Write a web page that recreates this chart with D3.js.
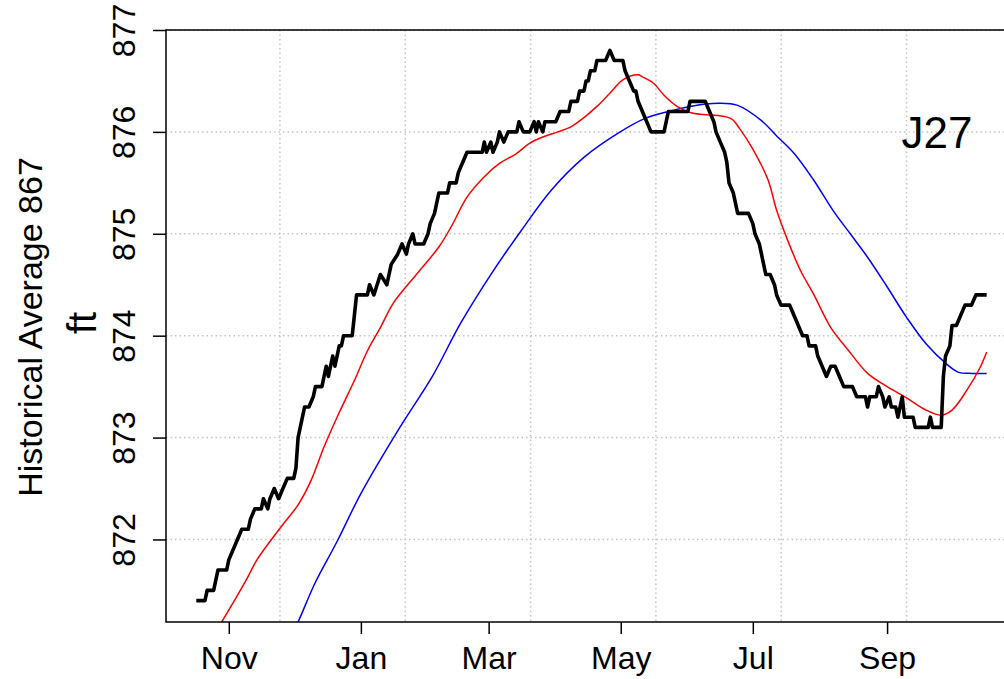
<!DOCTYPE html>
<html>
<head>
<meta charset="utf-8">
<script src="https://cdn.jsdelivr.net/npm/d3@7"></script>
<style>
  html, body { margin: 0; padding: 0; background: #fff; }
  svg { display: block; font-family: "Liberation Sans", Arial, Helvetica, sans-serif; }
</style>
</head>
<body>
<svg id="chart" width="1004" height="679"></svg>
<script>
// ---------------- data ----------------
const xDomain = ["2016-10-03", "2017-10-31"];
const yDomain = [871.19, 877.0];
const yTicks = [872, 873, 874, 875, 876, 877];
const monthTicks = ["2016-11-01", "2017-01-01", "2017-03-01", "2017-05-01", "2017-07-01", "2017-09-01"];
const monthLabels = ["Nov", "Jan", "Mar", "May", "Jul", "Sep"];
const gridStepSeconds = 5e6;          // R pretty() step on POSIXct axis
const gridStartSeconds = 1.475e9;
const gridEndSeconds = 1.51e9;
const yLabel = "Historical Average 867";
const unitLabel = "ft";
const siteLabel = "J27";

const observed = [
["2016-10-17",871.4],["2016-10-21",871.4],["2016-10-22",871.5],["2016-10-25",871.5],["2016-10-26",871.6],["2016-10-27",871.7],["2016-10-31",871.7],["2016-11-01",871.8],["2016-11-03",871.9],["2016-11-05",872.0],["2016-11-07",872.1],["2016-11-10",872.1],["2016-11-11",872.2],["2016-11-13",872.3],["2016-11-16",872.3],["2016-11-17",872.4],["2016-11-19",872.3],["2016-11-20",872.4],["2016-11-22",872.5],["2016-11-24",872.4],["2016-11-26",872.5],["2016-11-28",872.6],["2016-12-01",872.6],["2016-12-02",872.7],["2016-12-03",873.0],["2016-12-04",873.1],["2016-12-05",873.2],["2016-12-06",873.3],["2016-12-08",873.3],["2016-12-10",873.4],["2016-12-11",873.5],["2016-12-14",873.5],["2016-12-15",873.6],["2016-12-16",873.7],["2016-12-17",873.6],["2016-12-18",873.7],["2016-12-19",873.8],["2016-12-20",873.7],["2016-12-21",873.8],["2016-12-22",873.9],["2016-12-23",873.9],["2016-12-24",874.0],["2016-12-28",874.0],["2016-12-29",874.2],["2016-12-30",874.4],["2017-01-04",874.4],["2017-01-05",874.5],["2017-01-07",874.4],["2017-01-10",874.6],["2017-01-13",874.5],["2017-01-15",874.7],["2017-01-18",874.8],["2017-01-20",874.9],["2017-01-22",874.8],["2017-01-23",874.9],["2017-01-25",875.0],["2017-01-26",874.9],["2017-01-30",874.9],["2017-02-01",875.0],["2017-02-02",875.1],["2017-02-04",875.2],["2017-02-05",875.3],["2017-02-06",875.4],["2017-02-10",875.4],["2017-02-11",875.5],["2017-02-14",875.5],["2017-02-15",875.6],["2017-02-17",875.7],["2017-02-19",875.8],["2017-02-26",875.8],["2017-02-27",875.9],["2017-02-28",875.8],["2017-03-02",875.9],["2017-03-03",875.8],["2017-03-05",875.9],["2017-03-06",876.0],["2017-03-08",875.9],["2017-03-10",876.0],["2017-03-14",876.0],["2017-03-15",876.1],["2017-03-17",876.0],["2017-03-20",876.0],["2017-03-22",876.1],["2017-03-23",876.0],["2017-03-24",876.1],["2017-03-26",876.0],["2017-03-27",876.1],["2017-04-01",876.1],["2017-04-03",876.2],["2017-04-07",876.2],["2017-04-08",876.3],["2017-04-11",876.3],["2017-04-12",876.4],["2017-04-14",876.4],["2017-04-15",876.5],["2017-04-16",876.5],["2017-04-17",876.6],["2017-04-19",876.6],["2017-04-20",876.7],["2017-04-24",876.7],["2017-04-26",876.8],["2017-04-28",876.7],["2017-05-02",876.7],["2017-05-03",876.6],["2017-05-05",876.5],["2017-05-07",876.4],["2017-05-08",876.4],["2017-05-09",876.3],["2017-05-11",876.2],["2017-05-13",876.1],["2017-05-15",876.0],["2017-05-21",876.0],["2017-05-22",876.1],["2017-05-23",876.2],["2017-06-01",876.2],["2017-06-02",876.3],["2017-06-09",876.3],["2017-06-11",876.2],["2017-06-13",876.1],["2017-06-14",876.0],["2017-06-16",875.9],["2017-06-18",875.8],["2017-06-19",875.7],["2017-06-20",875.5],["2017-06-22",875.4],["2017-06-23",875.3],["2017-06-24",875.2],["2017-06-29",875.2],["2017-07-01",875.1],["2017-07-02",875.0],["2017-07-04",874.9],["2017-07-05",874.8],["2017-07-06",874.7],["2017-07-07",874.6],["2017-07-09",874.6],["2017-07-11",874.5],["2017-07-12",874.4],["2017-07-14",874.3],["2017-07-18",874.3],["2017-07-20",874.2],["2017-07-22",874.1],["2017-07-24",874.0],["2017-07-26",874.0],["2017-07-27",873.9],["2017-07-30",873.9],["2017-07-31",873.8],["2017-08-02",873.7],["2017-08-04",873.6],["2017-08-06",873.7],["2017-08-08",873.7],["2017-08-10",873.6],["2017-08-12",873.5],["2017-08-16",873.5],["2017-08-18",873.4],["2017-08-22",873.4],["2017-08-23",873.3],["2017-08-24",873.4],["2017-08-27",873.4],["2017-08-28",873.5],["2017-08-30",873.4],["2017-08-31",873.3],["2017-09-02",873.4],["2017-09-03",873.3],["2017-09-05",873.3],["2017-09-06",873.2],["2017-09-08",873.4],["2017-09-09",873.2],["2017-09-13",873.2],["2017-09-14",873.1],["2017-09-20",873.1],["2017-09-21",873.2],["2017-09-22",873.1],["2017-09-26",873.1],["2017-09-27",873.6],["2017-09-28",873.8],["2017-09-30",873.9],["2017-10-01",874.1],["2017-10-03",874.1],["2017-10-05",874.2],["2017-10-07",874.3],["2017-10-10",874.3],["2017-10-12",874.4],["2017-10-17",874.4]
];

const shortAverage = [
["2016-10-23",871.0],["2016-10-29",871.2],["2016-11-09",871.6],["2016-11-14",871.8],["2016-11-25",872.12],["2016-12-03",872.34],["2016-12-09",872.58],["2016-12-15",872.91],["2016-12-21",873.2],["2016-12-29",873.56],["2017-01-04",873.85],["2017-01-10",874.08],["2017-01-16",874.32],["2017-01-27",874.61],["2017-02-06",874.87],["2017-02-12",875.08],["2017-02-19",875.36],["2017-02-27",875.56],["2017-03-06",875.69],["2017-03-14",875.79],["2017-03-20",875.89],["2017-03-26",875.95],["2017-04-02",876.0],["2017-04-08",876.05],["2017-04-14",876.14],["2017-04-20",876.25],["2017-04-26",876.38],["2017-05-02",876.51],["2017-05-09",876.56],["2017-05-11",876.54],["2017-05-16",876.48],["2017-05-21",876.36],["2017-05-27",876.25],["2017-06-02",876.19],["2017-06-08",876.17],["2017-06-15",876.16],["2017-06-21",876.13],["2017-06-25",876.03],["2017-07-01",875.83],["2017-07-08",875.53],["2017-07-12",875.23],["2017-07-17",874.94],["2017-07-23",874.64],["2017-07-29",874.41],["2017-08-06",874.08],["2017-08-14",873.86],["2017-08-23",873.63],["2017-09-01",873.5],["2017-09-10",873.39],["2017-09-19",873.27],["2017-09-26",873.22],["2017-10-01",873.27],["2017-10-08",873.47],["2017-10-14",873.69],["2017-10-17",873.84]
];

const longAverage = [
["2016-11-27",870.92],["2016-12-03",871.19],["2016-12-11",871.58],["2016-12-21",871.98],["2017-01-01",872.45],["2017-01-19",873.1],["2017-02-03",873.6],["2017-02-16",874.12],["2017-03-02",874.6],["2017-03-16",875.03],["2017-03-30",875.43],["2017-04-14",875.75],["2017-04-30",875.99],["2017-05-12",876.13],["2017-05-23",876.2],["2017-06-02",876.25],["2017-06-15",876.28],["2017-06-24",876.26],["2017-07-05",876.11],["2017-07-12",875.96],["2017-07-20",875.79],["2017-07-29",875.53],["2017-08-07",875.23],["2017-08-15",875.0],["2017-08-23",874.77],["2017-09-01",874.48],["2017-09-10",874.18],["2017-09-19",873.92],["2017-09-28",873.73],["2017-10-04",873.64],["2017-10-10",873.63],["2017-10-17",873.63]
];

// ---------------- layout ----------------
const plot = { left: 166, top: 30, right: 1017, bottom: 622 };
const parse = d3.utcParse("%Y-%m-%d");

const x = d3.scaleUtc().domain(xDomain.map(parse)).range([plot.left, plot.right]);
const y = d3.scaleLinear().domain(yDomain).range([plot.bottom, plot.top]);

const svg = d3.select("#chart");
svg.append("rect").attr("width", 1004).attr("height", 679).attr("fill", "#fff");

svg.append("defs").append("clipPath").attr("id", "clip")
  .append("rect")
  .attr("x", plot.left).attr("y", plot.top)
  .attr("width", plot.right - plot.left).attr("height", plot.bottom - plot.top);

// grid
const grid = svg.append("g").attr("stroke", "#c4c4c4").attr("stroke-width", 1.5)
  .attr("stroke-dasharray", "1.5,3");
const gridTimes = d3.range(gridStartSeconds, gridEndSeconds + 1, gridStepSeconds).map(s => new Date(s * 1000));
grid.selectAll("line.v").data(gridTimes.filter(t => x(t) > plot.left && x(t) < plot.right))
  .join("line").attr("class", "v")
  .attr("x1", d => x(d)).attr("x2", d => x(d))
  .attr("y1", plot.top).attr("y2", plot.bottom);
grid.selectAll("line.h").data(yTicks)
  .join("line").attr("class", "h")
  .attr("x1", plot.left).attr("x2", plot.right)
  .attr("y1", d => y(d)).attr("y2", d => y(d));

// lines
const lines = svg.append("g").attr("clip-path", "url(#clip)");
const smooth = d3.line().x(d => x(parse(d[0]))).y(d => y(d[1])).curve(d3.curveCatmullRom.alpha(0.5));
const raw = d3.line().x(d => x(parse(d[0]))).y(d => y(d[1]));

lines.append("path").datum(longAverage).attr("d", smooth)
  .attr("fill", "none").attr("stroke", "#0000ff").attr("stroke-width", 1.5);
lines.append("path").datum(shortAverage).attr("d", smooth)
  .attr("fill", "none").attr("stroke", "#ff0000").attr("stroke-width", 1.5);
lines.append("path").datum(observed).attr("d", raw)
  .attr("fill", "none").attr("stroke", "#000").attr("stroke-width", 3.6)
  .attr("stroke-linejoin", "round");

// box
svg.append("rect")
  .attr("x", plot.left).attr("y", plot.top)
  .attr("width", plot.right - plot.left).attr("height", plot.bottom - plot.top)
  .attr("fill", "none").attr("stroke", "#000").attr("stroke-width", 1.5);

// y axis
const yAxis = d3.axisLeft(y).tickValues(yTicks).tickSize(13).tickPadding(0).tickFormat(d3.format("d"));
const gy = svg.append("g").attr("transform", `translate(${plot.left},0)`).call(yAxis);
gy.select(".domain").remove();
gy.selectAll(".tick line").attr("stroke", "#000").attr("stroke-width", 1.5);
gy.selectAll(".tick text")
  .attr("x", null).attr("dy", null)
  .attr("transform", `translate(${135 - plot.left},0) rotate(-90)`)
  .attr("text-anchor", "middle")
  .attr("font-size", 32).attr("fill", "#000")
  .attr("font-family", "'Liberation Sans', Arial, sans-serif");

// x axis
const xAxis = d3.axisBottom(x).tickValues(monthTicks.map(parse)).tickSize(12).tickPadding(0)
  .tickFormat((d, i) => monthLabels[i]);
const gx = svg.append("g").attr("transform", `translate(0,${plot.bottom})`).call(xAxis);
gx.select(".domain").remove();
gx.selectAll(".tick line").attr("stroke", "#000").attr("stroke-width", 1.5);
gx.selectAll(".tick text")
  .attr("y", 669 - plot.bottom).attr("dy", null)
  .attr("font-size", 32).attr("fill", "#000")
  .attr("font-family", "'Liberation Sans', Arial, sans-serif");

// labels
svg.append("text")
  .attr("transform", "translate(42,327) rotate(-90)")
  .attr("text-anchor", "middle").attr("font-size", 34).attr("fill", "#000")
  .text(yLabel);
svg.append("text")
  .attr("transform", "translate(96,323) rotate(-90)")
  .attr("text-anchor", "middle").attr("font-size", 40).attr("fill", "#000")
  .text(unitLabel);
svg.append("text")
  .attr("x", 937).attr("y", 148)
  .attr("text-anchor", "middle").attr("font-size", 44).attr("fill", "#000")
  .text(siteLabel);
</script>
</body>
</html>
